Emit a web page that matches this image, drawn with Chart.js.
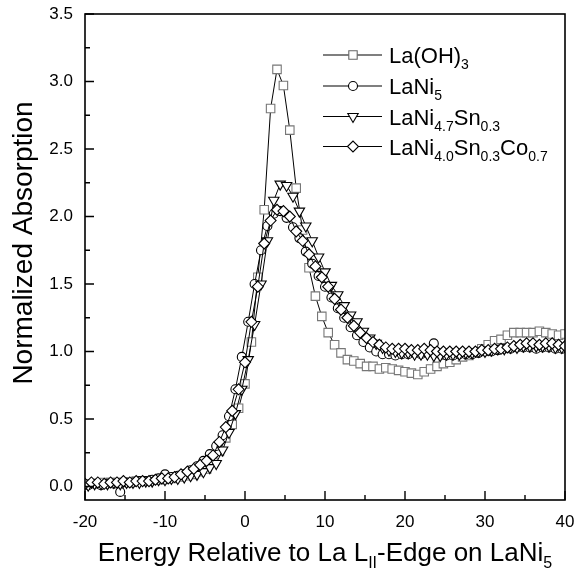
<!DOCTYPE html>
<html>
<head>
<meta charset="utf-8">
<script src="https://cdn.jsdelivr.net/npm/chart.js@4.4.1/dist/chart.umd.min.js"></script>
<style>
html,body{margin:0;padding:0;background:#fff;}
#wrap{width:577px;height:575px;position:relative;}
</style>
</head>
<body>
<div id="wrap"><canvas id="c" width="577" height="575"></canvas></div>
<script>
// ---- data ----
const energyA = [-20,-19.2,-18.4,-17.6,-16.8,-16,-15.2,-14.4,-13.6,-12.8,-12,-11.2,-10.4,-9.6,-8.8,-8,-7.2,-6.4,-5.6,-4.8,-4,-3.2,-2.4,-1.6,-0.8,0,0.8,1.6,2.4,3.2,4,4.8,5.6,6.4,7.2,8,8.8,9.6,10.4,11.2,12,12.8,13.6,14.4,15.2,16,16.8,17.6,18.4,19.2,20,20.8,21.6,22.4,23.2,24,24.8,25.6,26.4,27.2,28,28.8,29.6,30.4,31.2,32,32.8,33.6,34.4,35.2,36,36.8,37.6,38.4,39.2,40];
const energyB = [-19.6,-18.8,-18,-17.2,-16.4,-15.6,-14.8,-14,-13.2,-12.4,-11.6,-10.8,-10,-9.2,-8.4,-7.6,-6.8,-6,-5.2,-4.4,-3.6,-2.8,-2,-1.2,-0.4,0.4,1.2,2,2.8,3.6,4.4,5.2,6,6.8,7.6,8.4,9.2,10,10.8,11.6,12.4,13.2,14,14.8,15.6,16.4,17.2,18,18.8,19.6,20.4,21.2,22,22.8,23.6,24.4,25.2,26,26.8,27.6,28.4,29.2,30,30.8,31.6,32.4,33.2,34,34.8,35.6,36.4,37.2,38,38.8,39.6];

// La(OH)3 (on energyA)
const laOH = [0.02,0.02,0.02,0.03,0.03,0.03,0.03,0.03,0.04,0.04,0.04,0.05,0.05,0.06,0.06,0.07,0.08,0.09,0.11,0.13,0.18,0.26,0.36,0.46,0.58,0.76,1.07,1.55,2.05,2.80,3.09,2.97,2.64,2.21,1.90,1.62,1.41,1.26,1.14,1.05,0.99,0.94,0.93,0.91,0.89,0.89,0.87,0.88,0.87,0.86,0.85,0.84,0.83,0.85,0.87,0.89,0.91,0.92,0.94,0.96,0.97,0.99,1.02,1.05,1.08,1.09,1.12,1.14,1.14,1.14,1.14,1.15,1.14,1.13,1.12,1.13];
// LaNi5 (on energyB)
const laNi5 = [0.01,0.02,0.01,0.02,0.02,-0.04,0.03,0.03,0.04,0.04,0.05,0.06,0.09,0.07,0.08,0.09,0.12,0.15,0.19,0.24,0.30,0.38,0.52,0.72,0.96,1.22,1.50,1.75,1.93,2.02,2.04,1.99,1.92,1.84,1.74,1.65,1.56,1.48,1.40,1.32,1.25,1.18,1.12,1.07,1.03,1.00,0.98,0.98,0.97,0.98,0.98,0.99,0.98,0.99,1.06,0.98,0.97,0.97,0.98,0.98,0.98,0.99,1.00,1.00,1.01,1.02,1.02,1.03,1.03,1.03,1.02,1.03,1.03,1.02,1.02];
// LaNi4.7Sn0.3 (on energyB)
const laNiSn = [0.01,0.02,0.02,0.02,0.03,0.02,0.03,0.03,0.03,0.04,0.04,0.05,0.05,0.06,0.06,0.07,0.08,0.09,0.11,0.14,0.17,0.27,0.40,0.54,0.72,0.94,1.20,1.50,1.82,2.12,2.24,2.23,2.15,2.04,1.93,1.82,1.70,1.59,1.49,1.42,1.34,1.27,1.22,1.15,1.10,1.06,1.03,1.01,1.00,0.99,0.99,0.98,0.98,0.98,0.97,0.97,0.98,0.98,0.98,0.99,0.99,1.00,1.00,1.01,1.02,1.02,1.03,1.03,1.04,1.04,1.04,1.04,1.04,1.03,1.03];
// LaNi4.0Sn0.3Co0.7 (on energyA)
const laNiSnCo = [0.02,0.03,0.03,0.02,0.03,0.03,0.04,0.03,0.04,0.04,0.04,0.05,0.06,0.06,0.07,0.09,0.11,0.13,0.16,0.19,0.23,0.33,0.44,0.56,0.72,0.92,1.22,1.48,1.80,1.97,2.05,2.04,2.00,1.89,1.82,1.72,1.63,1.55,1.48,1.39,1.31,1.25,1.19,1.14,1.10,1.07,1.05,1.03,1.02,1.02,1.02,1.01,1.01,1.02,1.01,1.00,1.00,1.00,1.00,1.00,1.00,1.00,1.01,1.01,1.02,1.02,1.03,1.04,1.05,1.06,1.06,1.05,1.06,1.06,1.05,1.04];

const xTicks = [-20,-10,0,10,20,30,40];
const yTicks = [0.0,0.5,1.0,1.5,2.0,2.5,3.0,3.5];
const xMinor = [-15,-5,5,15,25,35];
const yMinor = [0.25,0.75,1.25,1.75,2.25,2.75,3.25];

const legendRows = [
  {style:'square', parts:[['La(OH)',0],['3',1]]},
  {style:'circle', parts:[['LaNi',0],['5',1]]},
  {style:'triangle', parts:[['LaNi',0],['4.7',1],['Sn',0],['0.3',1]]},
  {style:'diamond', parts:[['LaNi',0],['4.0',1],['Sn',0],['0.3',1],['Co',0],['0.7',1]]}
];

const FONT = '"Liberation Sans", Arial, Helvetica, sans-serif';
const pts = (xs, ys) => xs.map((x,i)=>({x:x, y:ys[i]}));

function drawMarker(ctx, style, x, y){
  ctx.save();
  ctx.fillStyle = '#fff';
  ctx.lineWidth = 1.1;
  ctx.beginPath();
  if(style==='square'){
    ctx.strokeStyle = '#666';
    ctx.rect(x-4.2, y-4.2, 8.4, 8.4);
  } else if(style==='circle'){
    ctx.strokeStyle = '#000';
    ctx.arc(x, y, 4.5, 0, Math.PI*2);
  } else if(style==='triangle'){
    ctx.strokeStyle = '#000';
    ctx.moveTo(x-5.2, y-3); ctx.lineTo(x+5.2, y-3); ctx.lineTo(x, y+6); ctx.closePath();
  } else {
    ctx.strokeStyle = '#000';
    ctx.moveTo(x-5.5, y); ctx.lineTo(x, y-5.5); ctx.lineTo(x+5.5, y); ctx.lineTo(x, y+5.5); ctx.closePath();
  }
  ctx.fill(); ctx.stroke();
  ctx.restore();
}

function drawParts(ctx, parts, x, y, mainSize, subSize, subDrop){
  let cx = x;
  for(const [t, sub] of parts){
    ctx.font = (sub ? subSize : mainSize) + 'px ' + FONT;
    ctx.fillText(t, cx, y + (sub ? subDrop : 0));
    cx += ctx.measureText(t).width;
  }
  return cx;
}

const decor = {
  id:'decor',
  afterDraw(chart){
    const ctx = chart.ctx, a = chart.chartArea;
    const xs = chart.scales.x, ys = chart.scales.y;
    ctx.save();
    // frame
    ctx.strokeStyle = '#000';
    ctx.lineWidth = 1.6;
    ctx.strokeRect(a.left, a.top, a.right-a.left, a.bottom-a.top);
    // inward ticks
    ctx.lineWidth = 1.4;
    ctx.beginPath();
    xTicks.forEach(v=>{const p=xs.getPixelForValue(v); ctx.moveTo(p,a.bottom); ctx.lineTo(p,a.bottom-9);});
    xMinor.forEach(v=>{const p=xs.getPixelForValue(v); ctx.moveTo(p,a.bottom); ctx.lineTo(p,a.bottom-5);});
    yTicks.forEach(v=>{const p=ys.getPixelForValue(v); ctx.moveTo(a.left,p); ctx.lineTo(a.left+9,p);});
    yMinor.forEach(v=>{const p=ys.getPixelForValue(v); ctx.moveTo(a.left,p); ctx.lineTo(a.left+5,p);});
    ctx.stroke();
    // tick labels
    ctx.fillStyle = '#000';
    ctx.font = '17px ' + FONT;
    ctx.textAlign = 'center';
    ctx.textBaseline = 'middle';
    xTicks.forEach(v=>{ ctx.fillText(String(v), xs.getPixelForValue(v), a.bottom + 22); });
    ctx.textAlign = 'right';
    yTicks.forEach(v=>{ ctx.fillText(v.toFixed(1), a.left - 12, ys.getPixelForValue(v)); });
    // y title
    ctx.save();
    ctx.translate(24, 243);
    ctx.rotate(-Math.PI/2);
    ctx.font = '28px ' + FONT;
    ctx.textAlign = 'center';
    ctx.textBaseline = 'middle';
    ctx.fillText('Normalized Absorption', 0, 0);
    ctx.restore();
    // x title
    const xParts = [['Energy Relative to La L',0],['II',1],['-Edge on LaNi',0],['5',1]];
    ctx.textAlign = 'left';
    ctx.textBaseline = 'alphabetic';
    let w = 0;
    for(const [t,sub] of xParts){ ctx.font=(sub?16:26)+'px '+FONT; w += ctx.measureText(t).width; }
    drawParts(ctx, xParts, (a.left+a.right)/2 - w/2, 561, 26, 16, 7);
    // legend
    const rowY = [55, 86, 116.5, 146.5];
    legendRows.forEach((r,i)=>{
      const y = rowY[i];
      ctx.strokeStyle = '#000'; ctx.lineWidth = 1.1;
      ctx.beginPath(); ctx.moveTo(323,y); ctx.lineTo(382,y); ctx.stroke();
      drawMarker(ctx, r.style, 353, y);
      ctx.fillStyle = '#000';
      drawParts(ctx, r.parts, 389, y+8, 22, 14, 6);
    });
    ctx.restore();
  }
};

const common = {showLine:true, borderWidth:1, borderColor:'#000', pointBackgroundColor:'#fff', pointBorderWidth:1.1, pointHoverRadius:0, tension:0};

new Chart(document.getElementById('c'), {
  type:'scatter',
  data:{
    datasets:[
      Object.assign({label:'LaNi4.0Sn0.3Co0.7', data:pts(energyA, laNiSnCo), pointStyle:'rectRot', pointRadius:5.5, pointBorderColor:'#000'}, common),
      Object.assign({label:'LaNi4.7Sn0.3', data:pts(energyB, laNiSn), pointStyle:'triangle', pointRotation:180, pointRadius:6, pointBorderColor:'#000'}, common),
      Object.assign({label:'LaNi5', data:pts(energyB, laNi5), pointStyle:'circle', pointRadius:4.5, pointBorderColor:'#000'}, common),
      Object.assign({label:'La(OH)3', data:pts(energyA, laOH), pointStyle:'rect', pointRadius:6, pointBorderColor:'#777'}, common)
    ]
  },
  options:{
    responsive:false,
    animation:false,
    devicePixelRatio:1,
    layout:{padding:{top:14, right:12, left:0, bottom:0}},
    plugins:{legend:{display:false}, tooltip:{enabled:false}},
    events:[],
    scales:{
      x:{
        type:'linear', min:-20, max:40,
        grid:{display:false, drawTicks:false},
        border:{display:false},
        afterBuildTicks(s){ s.ticks = xTicks.map(v=>({value:v})); },
        afterFit(s){ s.height = 75; },
        ticks:{display:false}
      },
      y:{
        type:'linear', min:-0.1, max:3.5,
        grid:{display:false, drawTicks:false},
        border:{display:false},
        afterBuildTicks(s){ s.ticks = yTicks.map(v=>({value:v})); },
        afterFit(s){ s.width = 85; },
        ticks:{display:false}
      }
    }
  },
  plugins:[decor]
});
</script>
</body>
</html>
